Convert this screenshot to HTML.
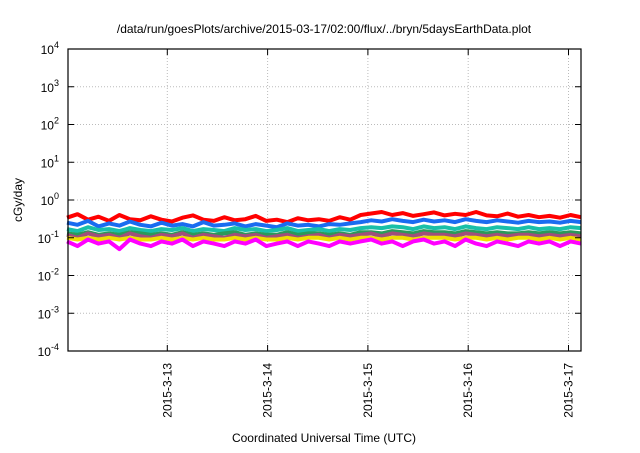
<!DOCTYPE html>
<html><head><meta charset="utf-8"><style>
body{margin:0;background:#fff;}
svg text{font-family:"Liberation Sans",sans-serif;fill:#000;}
</style></head><body>
<svg id="chart" width="640" height="448" viewBox="0 0 640 448">
<text x="324" y="33" font-size="12" text-anchor="middle">/data/run/goesPlots/archive/2015-03-17/02:00/flux/../bryn/5daysEarthData.plot</text>
<g id="grid"></g>
<g id="series"></g>
<rect x="68" y="49" width="513" height="302" fill="none" stroke="#000" stroke-width="1.2"/>
<g id="axes"></g>
<text transform="translate(22,200) rotate(-90)" font-size="12" text-anchor="middle">cGy/day</text>
<text x="324" y="442" font-size="12" text-anchor="middle">Coordinated Universal Time (UTC)</text>
</svg>
<script>
const yExps=[-4,-3,-2,-1,0,1,2,3,4];
const xTickLabels=["2015-3-13","2015-3-14","2015-3-15","2015-3-16","2015-3-17"];
const xTickDays=[1,2,3,4,5];
const red=[0.34,0.42,0.30,0.36,0.28,0.40,0.31,0.29,0.37,0.30,0.27,0.34,0.39,0.30,0.28,0.35,0.29,0.31,0.38,0.28,0.30,0.26,0.33,0.29,0.31,0.28,0.35,0.30,0.40,0.44,0.48,0.40,0.45,0.38,0.42,0.47,0.39,0.43,0.40,0.48,0.39,0.37,0.44,0.36,0.40,0.35,0.38,0.34,0.40,0.35];
const blue=[0.25,0.22,0.28,0.20,0.24,0.21,0.27,0.22,0.20,0.25,0.21,0.23,0.20,0.26,0.21,0.22,0.24,0.20,0.23,0.21,0.19,0.24,0.21,0.22,0.20,0.23,0.22,0.24,0.26,0.29,0.27,0.31,0.28,0.26,0.30,0.27,0.29,0.26,0.31,0.28,0.26,0.29,0.27,0.25,0.28,0.26,0.27,0.25,0.28,0.26];
const cyan=[0.17,0.15,0.19,0.16,0.17,0.15,0.18,0.16,0.15,0.17,0.16,0.18,0.15,0.17,0.16,0.15,0.18,0.16,0.17,0.15,0.16,0.18,0.15,0.16,0.17,0.15,0.17,0.16,0.18,0.19,0.18,0.20,0.19,0.17,0.20,0.18,0.19,0.17,0.20,0.18,0.17,0.19,0.18,0.17,0.19,0.17,0.18,0.17,0.19,0.18];
const green=[0.13,0.12,0.14,0.12,0.13,0.12,0.14,0.13,0.12,0.13,0.12,0.14,0.12,0.13,0.12,0.13,0.14,0.12,0.13,0.12,0.12,0.14,0.12,0.13,0.13,0.12,0.13,0.12,0.14,0.14,0.13,0.15,0.14,0.13,0.15,0.14,0.14,0.13,0.15,0.14,0.13,0.14,0.13,0.13,0.14,0.13,0.14,0.13,0.14,0.13];
const brown=[0.12,0.10,0.13,0.11,0.12,0.10,0.13,0.11,0.10,0.12,0.11,0.13,0.10,0.12,0.11,0.10,0.12,0.11,0.12,0.10,0.11,0.12,0.10,0.11,0.12,0.10,0.12,0.11,0.12,0.13,0.11,0.13,0.12,0.11,0.13,0.12,0.12,0.11,0.13,0.12,0.11,0.12,0.11,0.12,0.12,0.11,0.12,0.11,0.12,0.11];
const yellow=[0.10,0.09,0.10,0.09,0.10,0.09,0.10,0.09,0.09,0.10,0.09,0.10,0.09,0.10,0.09,0.09,0.10,0.09,0.10,0.09,0.09,0.10,0.09,0.10,0.10,0.09,0.10,0.09,0.10,0.10,0.09,0.10,0.10,0.09,0.10,0.10,0.10,0.09,0.10,0.10,0.09,0.10,0.09,0.10,0.10,0.09,0.10,0.09,0.10,0.09];
const magenta=[0.08,0.06,0.09,0.07,0.08,0.05,0.09,0.07,0.06,0.08,0.07,0.09,0.06,0.08,0.07,0.06,0.08,0.07,0.09,0.06,0.07,0.08,0.06,0.08,0.07,0.06,0.08,0.07,0.08,0.09,0.07,0.08,0.06,0.08,0.09,0.07,0.08,0.06,0.09,0.07,0.06,0.08,0.07,0.06,0.08,0.07,0.08,0.06,0.08,0.07];
const seriesList=[["red",red,"#ff0000"],["blue",blue,"#1a6cf0"],["cyan",cyan,"#19c0a8"],["green",green,"#2a9a5a"],["brown",brown,"#a0507a"],["yellow",yellow,"#f0e000"],["magenta",magenta,"#ff00ff"]];
const X0=68,X1=581,Y0=351,Y1=49,DAYPX=100.3,XSTART=68-1*DAYPX+DAYPX; // day 0 at x≈67
const NS="http://www.w3.org/2000/svg";
function xScale(d){return 67+d*DAYPX;}
function yScale(v){return Y0-(Math.log10(v)+4)*(Y0-Y1)/8;}
function mk(t,a,p){const e=document.createElementNS(NS,t);for(const k in a)e.setAttribute(k,a[k]);p.appendChild(e);return e;}
const grid=document.getElementById('grid'),axes=document.getElementById('axes'),sg=document.getElementById('series');
yExps.forEach(e=>{const y=yScale(Math.pow(10,e));
 if(e>-4&&e<4){const l=mk('line',{x1:X0,x2:X1,y1:y,y2:y,stroke:'#bbb','stroke-dasharray':'1,2'},grid);
 
 }
 const t1=mk('line',{x1:X0,x2:X0+6,y1:y,y2:y,stroke:'#000'},axes);
 
 
 const t2=mk('line',{x1:X1-6,x2:X1,y1:y,y2:y,stroke:'#000'},axes);
 
 
 const tx=mk('text',{x:59,y:y+5,'font-size':12,'text-anchor':'end'},axes);
 
 
 tx.textContent='10';const s=mk('tspan',{dy:-6,'font-size':9},tx);s.textContent=e;});
xTickDays.forEach((d,i)=>{const x=xScale(d);
 const l=mk('line',{x1:x,x2:x,y1:Y1,y2:Y0,stroke:'#bbb','stroke-dasharray':'1,2'},grid);
 
 
 const t1=mk('line',{x1:x,x2:x,y1:Y0-6,y2:Y0,stroke:'#000'},axes);
 
 
 const t2=mk('line',{x1:x,x2:x,y1:Y1,y2:Y1+6,stroke:'#000'},axes);
 
 
 const tx=mk('text',{transform:`translate(${x+4},${Y0+12}) rotate(-90)`,'font-size':12,'text-anchor':'end'},axes);
 
 
 tx.textContent=xTickLabels[i];});
const SPAN=(X1-67)/DAYPX;
seriesList.forEach(([n,arr,c])=>{
 const pts=arr.map((v,i)=>xScale(i*SPAN/(arr.length-1)).toFixed(1)+','+yScale(v).toFixed(1)).join(' ');
 const p=mk('polyline',{points:pts,fill:'none',stroke:c,'stroke-width':4,'stroke-linejoin':'round'},sg);
 
 });
</script>
</body></html>
